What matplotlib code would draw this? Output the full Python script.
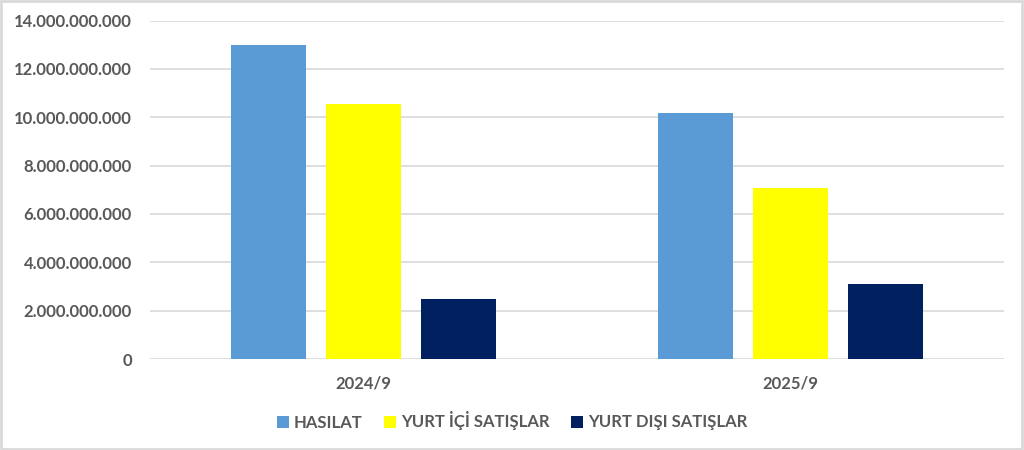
import matplotlib
matplotlib.use("Agg")
import matplotlib.pyplot as plt
import numpy as np
from matplotlib.ticker import FuncFormatter

categories = ["2024/9", "2025/9"]
series_names = ["HASILAT", "YURT İÇİ SATIŞLAR", "YURT DIŞI SATIŞLAR"]
hasilat = [12.99e9, 10.17e9]
yurt_ici = [10.56e9, 7.09e9]
yurt_disi = [2.47e9, 3.11e9]
colors = ["#5B9BD5", "#FFFF00", "#002060"]
yticks = [0, 2e9, 4e9, 6e9, 8e9, 10e9, 12e9, 14e9]

plt.rcParams['font.family'] = ['Lato', 'DejaVu Sans']
text_color = "#595959"

fig = plt.figure(figsize=(10.24, 4.5), dpi=100)
fig.patch.set_facecolor("white")
fig.patches.append(plt.Rectangle((0.001, 0.002), 0.997, 0.995, transform=fig.transFigure,
                                 fill=False, edgecolor="#d9d9d9", linewidth=2))
ax = fig.add_axes([150/1024, 1-359/450, 854/1024, (359-20.5)/450])

x = np.arange(len(categories))
width = 0.1756
step = 0.2225
for i, (vals, name, col) in enumerate(zip([hasilat, yurt_ici, yurt_disi], series_names, colors)):
    ax.bar(x + (i-1)*step, vals, width, color=col, label=name, zorder=3)

ax.set_xlim(-0.5, 1.5)
ax.set_ylim(0, 14e9)
ax.set_yticks(yticks)
ax.yaxis.set_major_formatter(FuncFormatter(lambda v, p: f"{int(v):,}".replace(",", ".")))
ax.set_xticks(x)
ax.set_xticklabels(categories)
ax.grid(axis="y", color="#d9d9d9", linewidth=1.2, zorder=0)
for s in ax.spines.values():
    s.set_visible(False)
ax.tick_params(axis="both", length=0, colors=text_color, labelsize=12)
ax.tick_params(axis="y", pad=13)
ax.tick_params(axis="x", pad=12)
for lbl in ax.get_xticklabels() + ax.get_yticklabels():
    lbl.set_fontweight("bold")

leg = fig.legend(loc="center", bbox_to_anchor=(0.5, 1-421/450), ncol=3, frameon=False,
                 handlelength=0.7, handleheight=0.7, handletextpad=0.3, columnspacing=1.3,
                 prop={"weight": "bold", "size": 12})
for t in leg.get_texts():
    t.set_color(text_color)

fig.savefig("out.png", dpi=100, facecolor="white")
